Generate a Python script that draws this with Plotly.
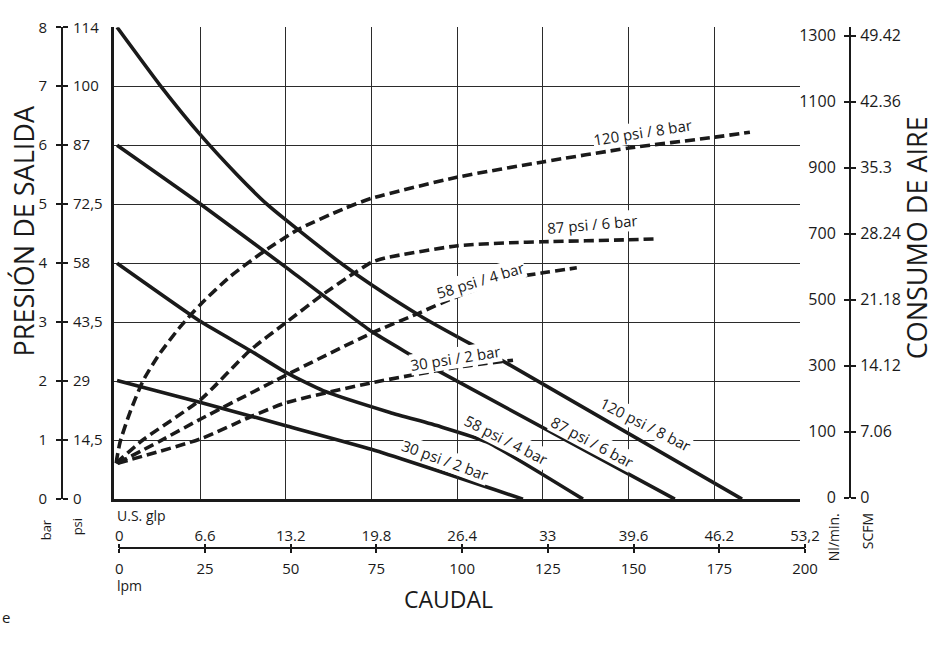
import plotly.graph_objects as go

# flow (lpm) vs outlet pressure (bar) - solid curves
flow_120 = [0.8, 13.3, 25.2, 35.8, 44.5, 50.3, 67.0, 75.1, 90.0, 104.6, 113.4, 183.1]
bar_120 = [8.0, 7.02, 6.17, 5.50, 5.00, 4.72, 3.96, 3.63, 3.08, 2.61, 2.34, 0.0]
flow_87 = [0.8, 25.2, 50.3, 75.1, 86.3, 93.0, 163.5]
bar_87 = [6.0, 5.0, 3.92, 2.84, 2.45, 2.22, 0.0]
flow_58 = [0.8, 25.2, 39.6, 50.3, 60.9, 80.4, 95.0, 108.6, 136.7]
bar_58 = [4.0, 3.01, 2.52, 2.14, 1.84, 1.47, 1.23, 0.97, 0.0]
flow_30 = [0.8, 25.2, 50.3, 75.2, 119.2]
bar_30 = [2.01, 1.64, 1.24, 0.84, 0.0]

# flow (lpm) vs air consumption (Nl/min) - dashed curves
air_flow_120 = [0.5, 1.7, 4.6, 8.4, 13.3, 19.2, 25.2, 33.7, 43.4, 53.6, 66.7, 75.1, 100.2, 125.0, 150.1, 175.2, 185.4]
air_120 = [5, 70, 160, 255, 338, 418, 487, 570, 645, 713, 775, 808, 872, 918, 960, 993, 1008]
air_flow_87 = [0.5, 8.4, 25.2, 39.6, 50.3, 60.9, 70.7, 75.1, 79.0, 100.2, 115.4, 125.0, 150.1, 158.6]
air_87 = [5, 76, 198, 347, 433, 517, 586, 614, 627, 664, 673, 676, 682, 685]
air_flow_58 = [1.0, 13.3, 25.2, 50.3, 75.2, 88.2, 100.2, 115.4, 125.0, 134.9]
air_58 = [5, 72, 139, 273, 400, 457, 511, 565, 582, 597]
air_flow_30 = [1.0, 25.2, 39.6, 50.3, 75.2, 100.2, 116.3]
air_30 = [5, 79, 145, 189, 249, 296, 317]

# axis ticks
bar_ticks = [0, 1, 2, 3, 4, 5, 6, 7, 8]
psi_labels = ["0", "14,5", "29", "43,5", "58", "72,5", "87", "100", "114"]
lpm_ticks = [0, 25, 50, 75, 100, 125, 150, 175, 200]
glp_labels = ["0", "6.6", "13.2", "19.8", "26.4", "33", "39.6", "46.2", "53,2"]
nl_ticks = [-100, 100, 300, 500, 700, 900, 1100, 1300]
nl_labels = ["0", "100", "300", "500", "700", "900", "1100", "1300"]
scfm_labels = ["0", "7.06", "14.12", "21.18", "28.24", "35.3", "42.36", "49.42"]

INK = "#1a1a1a"
FONT = "Open Sans"
NL_RANGE = [-100, 1326]

fig = go.Figure()

solid = [(flow_120, bar_120), (flow_87, bar_87), (flow_58, bar_58), (flow_30, bar_30)]
for fx, fy in solid:
    fig.add_trace(go.Scatter(x=fx, y=fy, mode="lines", xaxis="x", yaxis="y",
                             line=dict(color=INK, width=3.6, shape="spline", smoothing=0.5),
                             showlegend=False))

dashed = [(air_flow_120, air_120), (air_flow_87, air_87), (air_flow_58, air_58), (air_flow_30, air_30)]
for fx, fy in dashed:
    fig.add_trace(go.Scatter(x=fx, y=fy, mode="lines", xaxis="x", yaxis="y2",
                             line=dict(color=INK, width=3.6, dash="10px,5px", shape="spline",
                                       smoothing=0.6),
                             showlegend=False))

# invisible carriers so the secondary scales get drawn
hidden = dict(mode="markers", marker=dict(opacity=0), hoverinfo="skip", showlegend=False)
fig.add_trace(go.Scatter(x=lpm_ticks, y=bar_ticks, xaxis="x2", yaxis="y3", **hidden))
fig.add_trace(go.Scatter(x=lpm_ticks, y=bar_ticks, xaxis="x3", yaxis="y3", **hidden))
fig.add_trace(go.Scatter(x=lpm_ticks, y=bar_ticks, xaxis="x2", yaxis="y4", **hidden))
fig.add_trace(go.Scatter(x=lpm_ticks[:8], y=nl_ticks, xaxis="x", yaxis="y5", **hidden))

tick_font = dict(family=FONT, size=15, color=INK)
tick_font_r = dict(family=FONT, size=16, color=INK)
grid = dict(showgrid=True, gridcolor="#2b2b2b", gridwidth=1.3, zeroline=False,
            showline=True, linecolor=INK, linewidth=3, showticklabels=False, ticks="")
side_ax = dict(ticks="outside", tickwidth=1.6, tickcolor=INK, showgrid=False, zeroline=False)

fig.update_layout(
    width=937, height=653,
    margin=dict(l=62, r=87, t=14, b=105),
    paper_bgcolor="white", plot_bgcolor="rgba(0,0,0,0)",
    font=dict(family=FONT, color=INK),
    xaxis=dict(domain=[0.0664, 0.9365], range=[0, 200], anchor="y",
               tickvals=[25, 50, 75, 100, 125, 150, 175], **grid),
    yaxis=dict(domain=[0.0931, 0.9919], range=[0, 8], anchor="x",
               tickvals=[1, 2, 3, 4, 5, 6, 7], **grid),
    # air consumption (Nl/min | SCFM) on the right
    yaxis2=dict(domain=[0.0955, 0.9919], range=NL_RANGE, anchor="free", position=1.0,
                side="left", tickvals=nl_ticks, ticktext=nl_labels, ticklen=5,
                showline=True, linecolor=INK, linewidth=2, tickfont=tick_font_r,
                ticklabelstandoff=5, **side_ax),
    yaxis5=dict(overlaying="y2", range=NL_RANGE, anchor="free", position=1.0,
                side="right", tickvals=nl_ticks, ticktext=scfm_labels, ticklen=5,
                showline=False, tickfont=tick_font_r, ticklabelstandoff=1, **side_ax),
    # outlet pressure (bar | psi) on the left
    yaxis3=dict(domain=[0.0931, 0.9919], range=[0, 8], anchor="free", position=0.0,
                side="left", tickvals=bar_ticks, ticklen=5, showline=True,
                linecolor=INK, linewidth=2, tickfont=tick_font, ticklabelstandoff=6,
                **side_ax),
    yaxis4=dict(overlaying="y3", range=[0, 8], anchor="free", position=0.0, side="right",
                tickvals=bar_ticks, ticktext=psi_labels, ticklen=5, showline=False,
                tickfont=tick_font, ticklabelstandoff=2, **side_ax),
    # flow (lpm | U.S. glp) at the bottom
    xaxis2=dict(domain=[0.0727, 0.9429], range=[0, 200], anchor="free", position=0.0,
                side="bottom", tickvals=lpm_ticks, ticklen=4, showline=True,
                linecolor=INK, linewidth=2, tickfont=tick_font, ticklabelstandoff=3,
                **side_ax),
    xaxis3=dict(overlaying="x2", range=[0, 200], anchor="free", position=0.0, side="top",
                tickvals=lpm_ticks, ticktext=glp_labels, ticklen=4, showline=False,
                tickfont=tick_font, ticklabelstandoff=-3, **side_ax),
)

# curve labels (lpm, bar, text, angle)
curve_labels = [
    (154.2, 6.22, "120 psi / 8 bar", -9),
    (139.6, 4.67, "87 psi / 6 bar", -5),
    (106.7, 3.72, "58 psi / 4 bar", -17),
    (99.4, 2.40, "30 psi / 2 bar", -9),
    (154.8, 1.27, "120 psi / 8 bar", 27),
    (139.6, 0.97, "87 psi / 6 bar", 28),
    (114.5, 1.01, "58 psi / 4 bar", 27),
    (96.5, 0.67, "30 psi / 2 bar", 20),
]
for lx, ly, txt, ang in curve_labels:
    fig.add_annotation(x=lx, y=ly, xref="x", yref="y", text=txt, textangle=ang,
                       showarrow=False, bgcolor="white", borderpad=0,
                       font=dict(family=FONT, size=15, color=INK))


def paper_text(px, py, txt, size, angle=0, xanchor="center"):
    fig.add_annotation(x=(px - 62) / 788, y=(548 - py) / 534, xref="paper", yref="paper",
                       text=txt, textangle=angle, showarrow=False, xanchor=xanchor,
                       yanchor="middle", font=dict(family=FONT, size=size, color=INK))


paper_text(23, 226, "PRESIÓN DE SALIDA", 27, -90)
paper_text(916, 233, "CONSUMO DE AIRE", 27, -90)
paper_text(448, 600, "CAUDAL", 23)
paper_text(115, 515, "U.S. glp", 14, xanchor="left")
paper_text(115, 586, "lpm", 14, xanchor="left")
paper_text(46, 530, "bar", 13, -90)
paper_text(77, 527, "psi", 13, -90)
paper_text(833, 537, "Nl/min.", 14, -90)
paper_text(867, 531, "SCFM", 14, -90)
paper_text(6, 618, "e", 15)

fig.write_html("out.html", config={"displayModeBar": False},
               post_script="document.body.style.margin='0';")
